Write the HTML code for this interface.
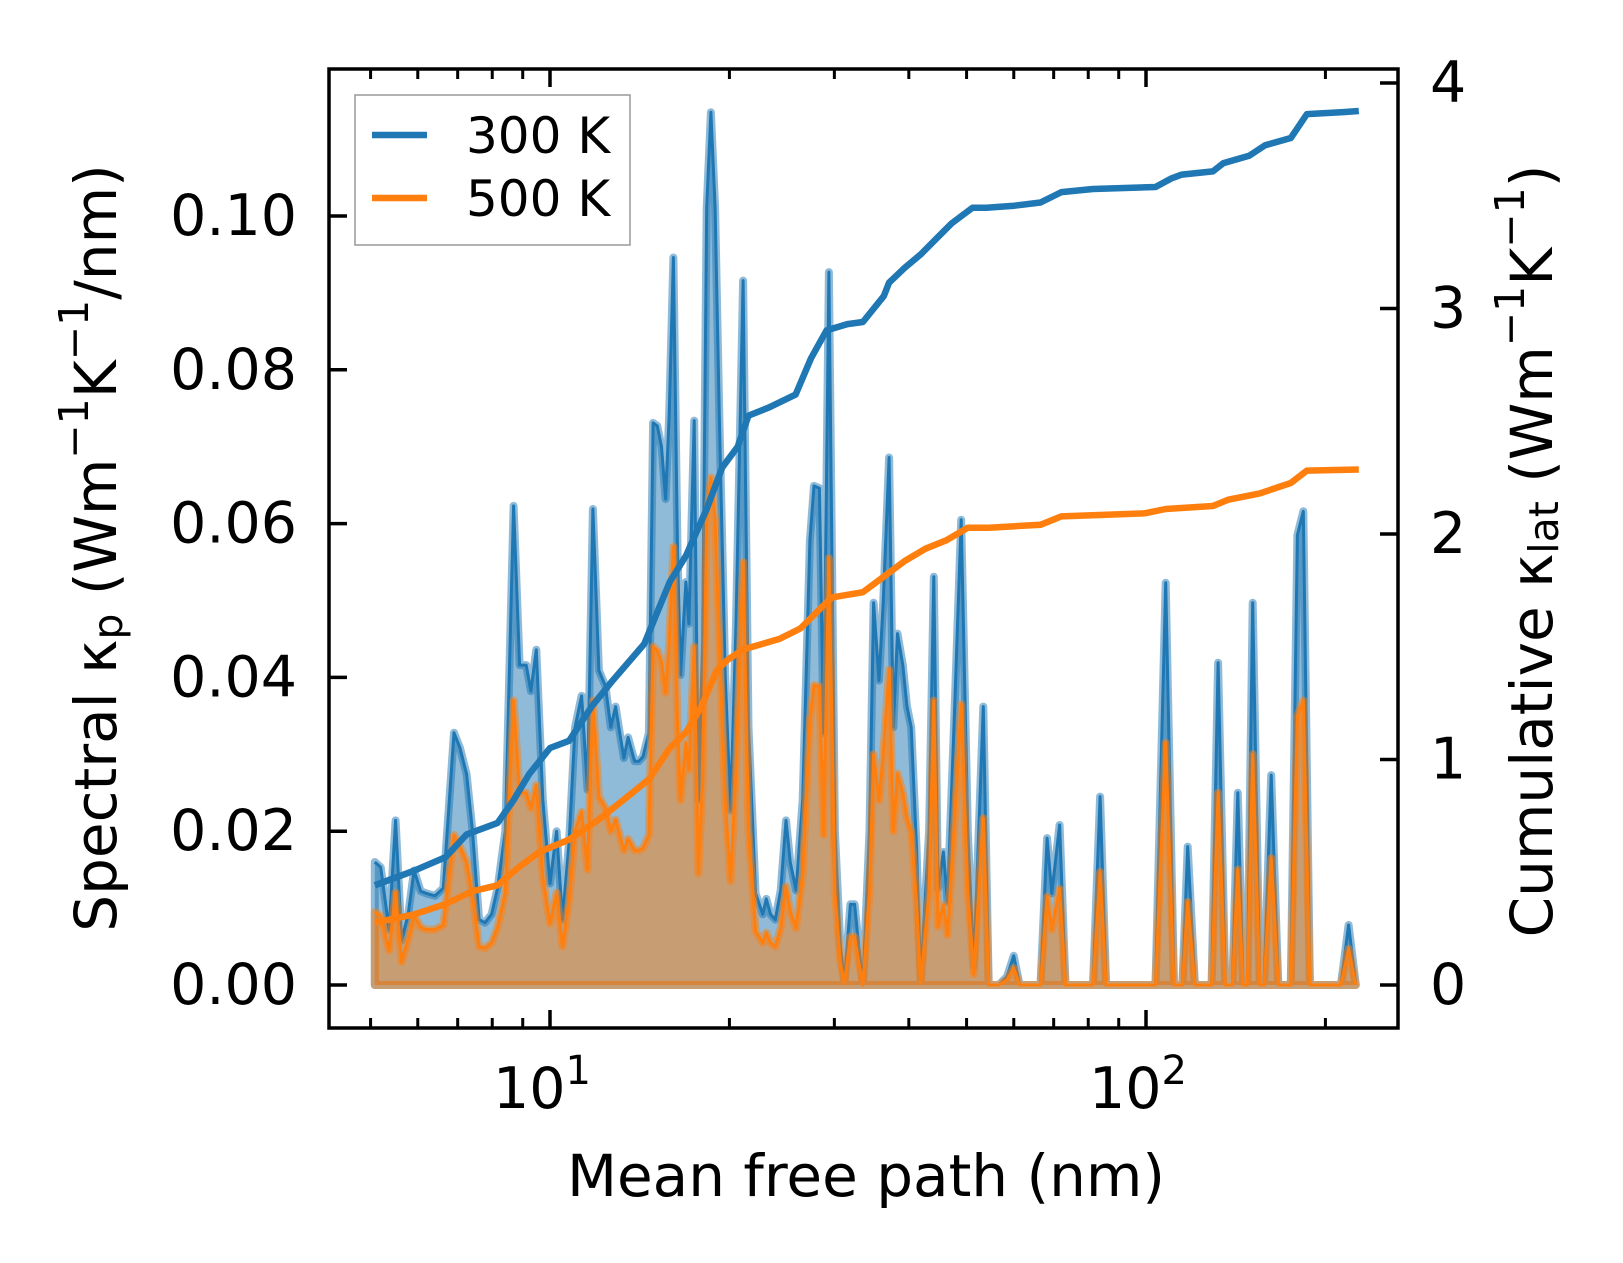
<!DOCTYPE html>
<html><head><meta charset="utf-8"><style>
html,body{margin:0;padding:0;background:#fff;}
svg{display:block;font-family:"DejaVu Sans","Liberation Sans",sans-serif;}
</style></head><body>
<svg id="chart" width="1623" height="1263" viewBox="0 0 1623 1263" xmlns="http://www.w3.org/2000/svg">
<g id="plot"></g>
<g id="axes"></g>
<g>
  <rect x="355" y="95" width="275" height="150" fill="#fff" fill-opacity="0.8" stroke="#999" stroke-width="1.5"/>
  <line x1="372" y1="135" x2="427" y2="135" stroke="#1f77b4" stroke-width="6.5"/>
  <text x="466" y="153" font-size="50">300 K</text>
  <line x1="372" y1="198" x2="427" y2="198" stroke="#ff7f0e" stroke-width="6.5"/>
  <text x="466" y="216" font-size="50">500 K</text>
</g>
<text x="866" y="1196" font-size="58" text-anchor="middle">Mean free path (nm)</text>
<text transform="translate(96,548) rotate(-90)" font-size="58" text-anchor="middle" dominant-baseline="central">Spectral κ<tspan font-size="41" dy="12">p</tspan><tspan dy="-12"> (Wm</tspan><tspan font-size="41" dy="-22">−1</tspan><tspan dy="22">K</tspan><tspan font-size="41" dy="-22">−1</tspan><tspan dy="22">/nm)</tspan></text>
<text transform="translate(1532,551) rotate(-90)" font-size="58" text-anchor="middle" dominant-baseline="central">Cumulative κ<tspan font-size="41" dy="12">lat</tspan><tspan dy="-12"> (Wm</tspan><tspan font-size="41" dy="-22">−1</tspan><tspan dy="22">K</tspan><tspan font-size="41" dy="-22">−1</tspan><tspan dy="22">)</tspan></text>
</svg>
<script>
const mfpLog10 = [.706,.716,.730,.741,.751,.762,.772,.783,.793,.807,
.821,.839,.849,.860,.870,.881,.891,.902,.912,.925,
.939,.949,.960,.968,.977,.988,1.000,1.011,1.021,1.032,
1.042,1.053,1.063,1.072,1.082,1.093,1.102,1.110,1.117,1.124,
1.131,1.142,1.149,1.156,1.166,1.173,1.180,1.187,1.194,1.200,
1.207,1.214,1.219,1.228,1.233,1.242,1.249,1.256,1.263,1.270,
1.277,1.284,1.294,1.303,1.312,1.324,1.333,1.345,1.357,1.363,
1.370,1.378,1.387,1.396,1.403,1.413,1.424,1.436,1.443,1.452,
1.459,1.468,1.478,1.487,1.494,1.504,1.511,1.518,1.525,1.536,
1.543,1.552,1.559,1.569,1.576,1.583,1.592,1.599,1.606,1.615,
1.622,1.629,1.636,1.644,1.651,1.660,1.667,1.679,1.690,1.701,
1.711,1.727,1.736,1.753,1.767,1.778,1.788,1.823,1.834,1.842,
1.855,1.865,1.911,1.923,1.933,2.016,2.033,2.047,2.061,2.070,
2.082,2.110,2.121,2.133,2.145,2.154,2.163,2.170,2.179,2.191,
2.198,2.210,2.222,2.243,2.254,2.264,2.275,2.327,2.340,2.352];
const spectral300 = [.0160,.0153,.0072,.0214,.0058,.0092,.0149,.0122,.0119,.0116,
.0126,.0328,.0308,.0274,.0200,.0085,.0081,.0092,.0126,.0200,
.0623,.0416,.0416,.0382,.0436,.0241,.0132,.0200,.0085,.0186,
.0335,.0376,.0254,.0619,.0409,.0389,.0335,.0362,.0328,.0295,
.0322,.0291,.0291,.0297,.0328,.0731,.0727,.0700,.0632,.0741,
.0946,.0565,.0403,.0524,.0470,.0734,.0241,.0443,.1011,.1135,
.1011,.0741,.0403,.0227,.0470,.0916,.0335,.0119,.0092,.0112,
.0092,.0085,.0123,.0214,.0160,.0123,.0241,.0578,.0649,.0646,
.0328,.0927,.0200,.0051,.0004,.0105,.0105,.0051,0,.0200,
.0497,.0396,.0497,.0686,.0335,.0457,.0416,.0362,.0335,.0180,
.0004,.0105,.0200,.0531,.0126,.0173,.0108,.0362,.0605,.0200,
.0024,.0362,0,0,.0011,.0038,0,0,.0191,.0119,
.0208,0,0,.0245,0,0,.0523,0,0,.0180,
0,0,.0419,0,0,.0250,0,0,.0497,0,
0,.0273,0,0,.0585,.0616,0,0,.0078,0];
const spectral500 = [.0095,.0090,.0045,.0120,.0030,.0060,.0090,.0075,.0072,.0072,
.0078,.0195,.0180,.0160,.0115,.0050,.0048,.0055,.0075,.0120,
.0370,.0250,.0250,.0230,.0260,.0140,.0080,.0120,.0050,.0110,
.0200,.0225,.0150,.0370,.0245,.0230,.0200,.0215,.0195,.0175,
.0190,.0175,.0175,.0178,.0195,.0440,.0435,.0420,.0380,.0445,
.0570,.0340,.0240,.0315,.0280,.0440,.0145,.0265,.0605,.0660,
.0605,.0445,.0240,.0135,.0280,.0550,.0200,.0070,.0055,.0068,
.0055,.0050,.0074,.0128,.0096,.0074,.0145,.0345,.0390,.0388,
.0195,.0555,.0120,.0030,.0002,.0063,.0063,.0030,0,.0120,
.0300,.0240,.0300,.0410,.0200,.0275,.0250,.0217,.0200,.0108,
.0002,.0063,.0120,.0370,.0076,.0104,.0065,.0217,.0365,.0120,
.0014,.0217,0,0,.0007,.0022,0,0,.0115,.0072,
.0125,0,0,.0147,0,0,.0315,0,0,.0108,
0,0,.0250,0,0,.0150,0,0,.0300,0,
0,.0165,0,0,.0350,.0370,0,0,.0047,0];
const cum300Log10 = [.706,.772,.825,.860,.912,.939,.965,1.0,1.032,1.070,
1.105,1.158,1.201,1.228,1.263,1.289,1.315,1.333,1.368,1.412,
1.438,1.464,1.499,1.525,1.560,1.569,1.595,1.622,1.648,1.674,
1.709,1.732,1.779,1.823,1.858,1.911,2.016,2.042,2.060,2.112,
2.130,2.173,2.200,2.243,2.270,2.331,2.357];
const cum300 = [.442,.507,.567,.668,.719,.820,.935,1.051,1.083,1.235,
1.350,1.512,1.788,1.903,2.111,2.295,2.387,2.525,2.562,2.618,
2.779,2.903,2.931,2.940,3.055,3.115,3.180,3.240,3.309,3.378,
3.447,3.447,3.456,3.470,3.516,3.530,3.539,3.576,3.594,3.608,
3.645,3.677,3.724,3.756,3.862,3.871,3.876];
const cum500Log10 = [.706,.772,.825,.869,.912,.947,.982,1.032,1.079,1.123,
1.166,1.201,1.228,1.254,1.280,1.298,1.324,1.385,1.420,1.455,
1.473,1.525,1.560,1.595,1.630,1.665,1.701,1.736,1.823,1.858,
1.998,2.033,2.112,2.138,2.191,2.243,2.270,2.357];
const cum500 = [.276,.313,.359,.415,.442,.521,.590,.645,.728,.820,
.912,1.051,1.120,1.235,1.396,1.442,1.488,1.535,1.581,1.673,
1.719,1.742,1.811,1.880,1.935,1.972,2.028,2.028,2.041,2.078,
2.092,2.111,2.124,2.152,2.180,2.226,2.281,2.286];
const leftTicks = [0, 0.02, 0.04, 0.06, 0.08, 0.10];
const leftTickLabels = ["0.00","0.02","0.04","0.06","0.08","0.10"];
const rightTicks = [0, 1, 2, 3, 4];
const xMajor = [1, 2];
const xMinor = [5,6,7,8,9,20,30,40,50,60,70,80,90,200];

const NS = "http://www.w3.org/2000/svg";
const AX = {l:329, r:1398, t:69, b:1028};
const X = lg => 550 + (lg - 1) * 596;
const YL = v => 985 - v * 7690;
const YR = c => 985 - c * 225.5;
function mk(tag, attrs, parent) {
  const e = document.createElementNS(NS, tag);
  for (const k in attrs) e.setAttribute(k, attrs[k]);
  parent.appendChild(e);
  return e;
}
const plot = document.getElementById('plot');
const axes = document.getElementById('axes');

function drawSpectral(vals, color, rgb, name) {
  let pts = mfpLog10.map((lg, i) => X(lg).toFixed(1) + ',' + YL(vals[i]).toFixed(1));
  const poly = 'M' + X(mfpLog10[0]).toFixed(1) + ',' + YL(0) + ' L' + pts.join(' L') + ' L' + X(mfpLog10[mfpLog10.length-1]).toFixed(1) + ',' + YL(0) + ' Z';
  const a = mk('path', {d: poly, fill: 'rgba(' + rgb + ',0.5)', stroke: 'rgba(' + rgb + ',0.5)', 'stroke-width': 8, 'stroke-linejoin': 'round'}, plot);
  
  
  const l = mk('path', {d: 'M' + pts.join(' L'), fill: 'none', stroke: color, 'stroke-width': 3, 'stroke-linejoin': 'round'}, plot);
  
  
}
drawSpectral(spectral300, '#1f77b4', '31,119,180', 'spectral-300k');
drawSpectral(spectral500, '#ff7f0e', '255,127,14', 'spectral-500k');

function drawCum(xs, vals, color, name) {
  const d = 'M' + xs.map((lg, i) => X(lg).toFixed(1) + ',' + YR(vals[i]).toFixed(1)).join(' L');
  const p = mk('path', {d: d, fill: 'none', stroke: color, 'stroke-width': 6.5, 'stroke-linejoin': 'round'}, plot);
  
  
}
drawCum(cum300Log10, cum300, '#1f77b4', 'cumulative-300k');
drawCum(cum500Log10, cum500, '#ff7f0e', 'cumulative-500k');

const frame = mk('rect', {x: AX.l, y: AX.t, width: AX.r - AX.l, height: AX.b - AX.t, fill: 'none', stroke: '#000', 'stroke-width': 3.5}, axes);



leftTicks.forEach((v, i) => {
  const y = YL(v);
  const t = mk('line', {x1: AX.l, x2: AX.l + 18, y1: y, y2: y, stroke: '#000', 'stroke-width': 3.5}, axes);
  
  
  const tx = mk('text', {x: 297, y: y, 'font-size': 57, 'text-anchor': 'end', 'dominant-baseline': 'central'}, axes);
  tx.textContent = leftTickLabels[i];
  
  
});
rightTicks.forEach(c => {
  const y = YR(c);
  const t = mk('line', {x1: AX.r - 18, x2: AX.r, y1: y, y2: y, stroke: '#000', 'stroke-width': 3.5}, axes);
  
  
  const tx = mk('text', {x: 1430, y: y, 'font-size': 57, 'dominant-baseline': 'central'}, axes);
  tx.textContent = String(c);
  
  
});
xMajor.forEach(p => {
  const x = X(p);
  [[AX.b - 18, AX.b], [AX.t, AX.t + 18]].forEach(([a, b]) => {
    const t = mk('line', {x1: x, x2: x, y1: a, y2: b, stroke: '#000', 'stroke-width': 3.5}, axes);
    
    
  });
  const tx = mk('text', {x: x - 8, y: 1108, 'font-size': 57, 'text-anchor': 'middle'}, axes);
  
  
  tx.appendChild(document.createTextNode('10'));
  const s = mk('tspan', {'font-size': 40, dy: -24}, tx);
  s.textContent = String(p);
});
xMinor.forEach(v => {
  const x = X(Math.log10(v));
  [[AX.b - 10, AX.b], [AX.t, AX.t + 10]].forEach(([a, b]) => {
    const t = mk('line', {x1: x, x2: x, y1: a, y2: b, stroke: '#000', 'stroke-width': 3}, axes);
    
    
  });
});
</script>
</body></html>
